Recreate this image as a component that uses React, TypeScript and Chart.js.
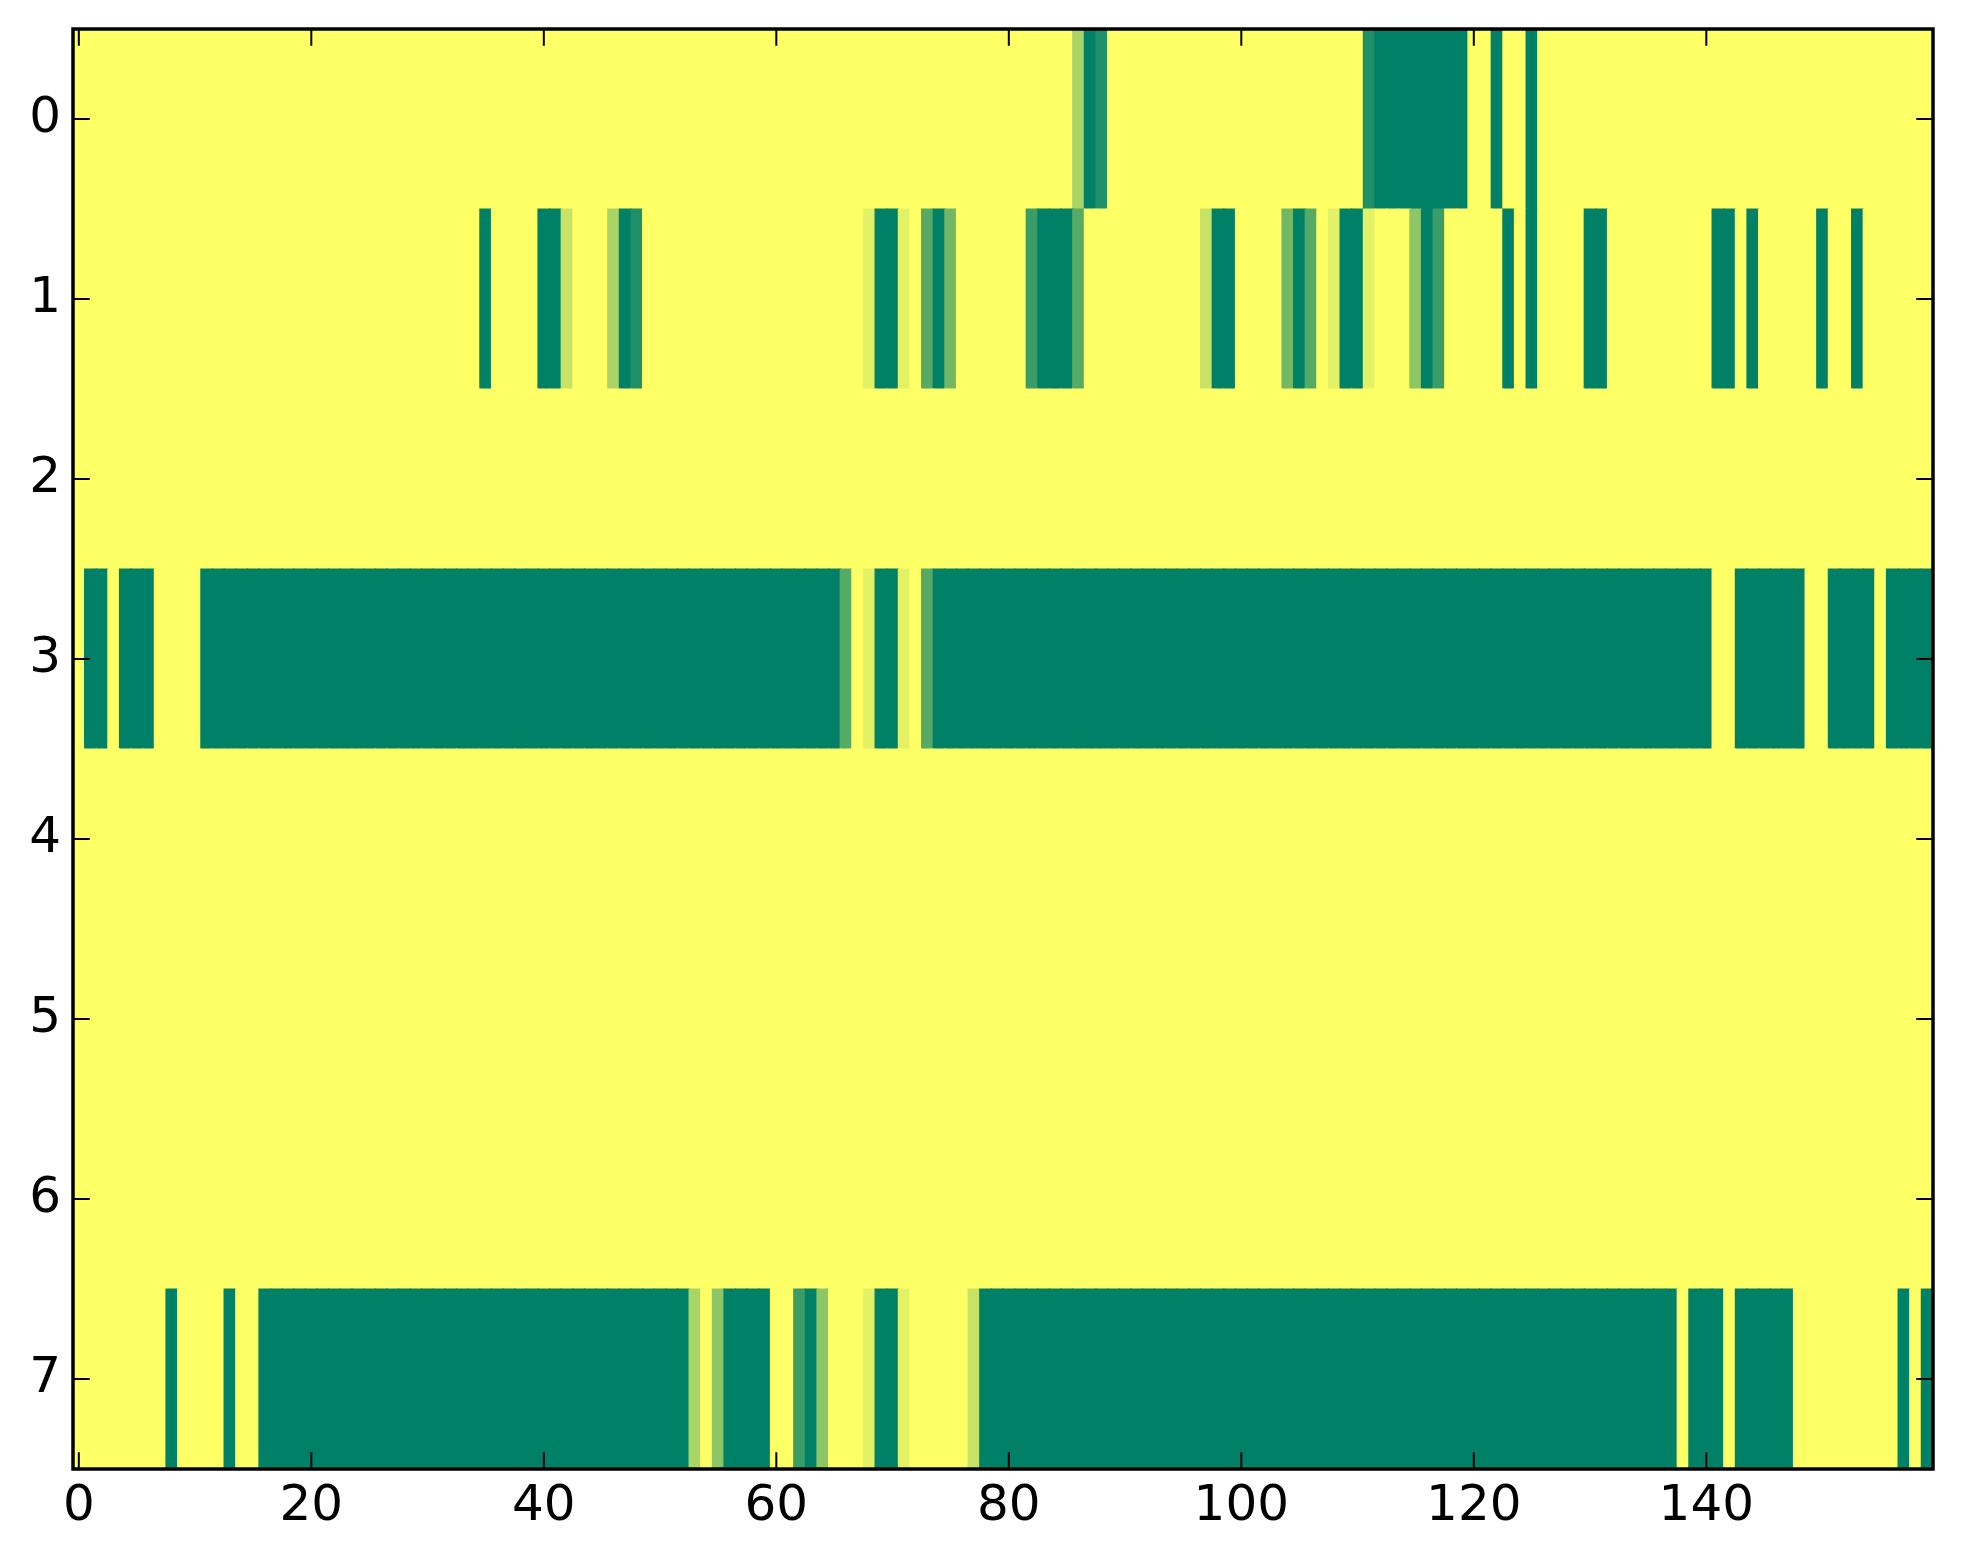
import React, { useEffect, useRef } from "react";
import { Chart, registerables } from "chart.js";

Chart.register(...registerables);

// Row indices (y axis) and tick labels
const ROW_INDEX = [0, 1, 2, 3, 4, 5, 6, 7];
const X_TICKS = [0, 20, 40, 60, 80, 100, 120, 140];
const Y_TICKS = [0, 1, 2, 3, 4, 5, 6, 7];

// Cell values per row (160 columns each), 0 = dark green, 1 = yellow
const row0 = [
  1, 1, 1, 1, 1, 1, 1, 1, 1, 1, 1, 1, 1, 1, 1, 1, 1, 1, 1, 1,
  1, 1, 1, 1, 1, 1, 1, 1, 1, 1, 1, 1, 1, 1, 1, 1, 1, 1, 1, 1,
  1, 1, 1, 1, 1, 1, 1, 1, 1, 1, 1, 1, 1, 1, 1, 1, 1, 1, 1, 1,
  1, 1, 1, 1, 1, 1, 1, 1, 1, 1, 1, 1, 1, 1, 1, 1, 1, 1, 1, 1,
  1, 1, 1, 1, 1, 1, 0.667, 0, 0.118, 1, 1, 1, 1, 1, 1, 1, 1, 1, 1, 1,
  1, 1, 1, 1, 1, 1, 1, 1, 1, 1, 1, 0.118, 0, 0, 0, 0, 0, 0, 0, 0,
  1, 1, 0, 1, 1, 0, 1, 1, 1, 1, 1, 1, 1, 1, 1, 1, 1, 1, 1, 1,
  1, 1, 1, 1, 1, 1, 1, 1, 1, 1, 1, 1, 1, 1, 1, 1, 1, 1, 1, 1,
];
const row1 = [
  1, 1, 1, 1, 1, 1, 1, 1, 1, 1, 1, 1, 1, 1, 1, 1, 1, 1, 1, 1,
  1, 1, 1, 1, 1, 1, 1, 1, 1, 1, 1, 1, 1, 1, 1, 0, 1, 1, 1, 1,
  0, 0, 0.78, 1, 1, 1, 0.667, 0, 0.118, 1, 1, 1, 1, 1, 1, 1, 1, 1, 1, 1,
  1, 1, 1, 1, 1, 1, 1, 1, 0.89, 0, 0, 0.89, 1, 0.333, 0, 0.44, 1, 1, 1, 1,
  1, 1, 0.227, 0, 0, 0, 0.333, 1, 1, 1, 1, 1, 1, 1, 1, 1, 1, 0.78, 0, 0,
  1, 1, 1, 1, 0.44, 0, 0.333, 1, 0.89, 0, 0, 0.89, 1, 1, 1, 0.55, 0, 0.227, 1, 1,
  1, 1, 1, 0, 1, 0, 1, 1, 1, 1, 0, 0, 1, 1, 1, 1, 1, 1, 1, 1,
  1, 0, 0, 1, 0, 1, 1, 1, 1, 1, 0, 1, 1, 0, 1, 1, 1, 1, 1, 1,
];
const row2 = [
  1, 1, 1, 1, 1, 1, 1, 1, 1, 1, 1, 1, 1, 1, 1, 1, 1, 1, 1, 1,
  1, 1, 1, 1, 1, 1, 1, 1, 1, 1, 1, 1, 1, 1, 1, 1, 1, 1, 1, 1,
  1, 1, 1, 1, 1, 1, 1, 1, 1, 1, 1, 1, 1, 1, 1, 1, 1, 1, 1, 1,
  1, 1, 1, 1, 1, 1, 1, 1, 1, 1, 1, 1, 1, 1, 1, 1, 1, 1, 1, 1,
  1, 1, 1, 1, 1, 1, 1, 1, 1, 1, 1, 1, 1, 1, 1, 1, 1, 1, 1, 1,
  1, 1, 1, 1, 1, 1, 1, 1, 1, 1, 1, 1, 1, 1, 1, 1, 1, 1, 1, 1,
  1, 1, 1, 1, 1, 1, 1, 1, 1, 1, 1, 1, 1, 1, 1, 1, 1, 1, 1, 1,
  1, 1, 1, 1, 1, 1, 1, 1, 1, 1, 1, 1, 1, 1, 1, 1, 1, 1, 1, 1,
];
const row3 = [
  1, 0, 0, 1, 0, 0, 0, 1, 1, 1, 1, 0, 0, 0, 0, 0, 0, 0, 0, 0,
  0, 0, 0, 0, 0, 0, 0, 0, 0, 0, 0, 0, 0, 0, 0, 0, 0, 0, 0, 0,
  0, 0, 0, 0, 0, 0, 0, 0, 0, 0, 0, 0, 0, 0, 0, 0, 0, 0, 0, 0,
  0, 0, 0, 0, 0, 0, 0.333, 1, 0.89, 0, 0, 0.89, 1, 0.333, 0, 0, 0, 0, 0, 0,
  0, 0, 0, 0, 0, 0, 0, 0, 0, 0, 0, 0, 0, 0, 0, 0, 0, 0, 0, 0,
  0, 0, 0, 0, 0, 0, 0, 0, 0, 0, 0, 0, 0, 0, 0, 0, 0, 0, 0, 0,
  0, 0, 0, 0, 0, 0, 0, 0, 0, 0, 0, 0, 0, 0, 0, 0, 0, 0, 0, 0,
  0, 1, 1, 0, 0, 0, 0, 0, 0, 1, 1, 0, 0, 0, 0, 1, 0, 0, 0, 0,
];
const row4 = [
  1, 1, 1, 1, 1, 1, 1, 1, 1, 1, 1, 1, 1, 1, 1, 1, 1, 1, 1, 1,
  1, 1, 1, 1, 1, 1, 1, 1, 1, 1, 1, 1, 1, 1, 1, 1, 1, 1, 1, 1,
  1, 1, 1, 1, 1, 1, 1, 1, 1, 1, 1, 1, 1, 1, 1, 1, 1, 1, 1, 1,
  1, 1, 1, 1, 1, 1, 1, 1, 1, 1, 1, 1, 1, 1, 1, 1, 1, 1, 1, 1,
  1, 1, 1, 1, 1, 1, 1, 1, 1, 1, 1, 1, 1, 1, 1, 1, 1, 1, 1, 1,
  1, 1, 1, 1, 1, 1, 1, 1, 1, 1, 1, 1, 1, 1, 1, 1, 1, 1, 1, 1,
  1, 1, 1, 1, 1, 1, 1, 1, 1, 1, 1, 1, 1, 1, 1, 1, 1, 1, 1, 1,
  1, 1, 1, 1, 1, 1, 1, 1, 1, 1, 1, 1, 1, 1, 1, 1, 1, 1, 1, 1,
];
const row5 = [
  1, 1, 1, 1, 1, 1, 1, 1, 1, 1, 1, 1, 1, 1, 1, 1, 1, 1, 1, 1,
  1, 1, 1, 1, 1, 1, 1, 1, 1, 1, 1, 1, 1, 1, 1, 1, 1, 1, 1, 1,
  1, 1, 1, 1, 1, 1, 1, 1, 1, 1, 1, 1, 1, 1, 1, 1, 1, 1, 1, 1,
  1, 1, 1, 1, 1, 1, 1, 1, 1, 1, 1, 1, 1, 1, 1, 1, 1, 1, 1, 1,
  1, 1, 1, 1, 1, 1, 1, 1, 1, 1, 1, 1, 1, 1, 1, 1, 1, 1, 1, 1,
  1, 1, 1, 1, 1, 1, 1, 1, 1, 1, 1, 1, 1, 1, 1, 1, 1, 1, 1, 1,
  1, 1, 1, 1, 1, 1, 1, 1, 1, 1, 1, 1, 1, 1, 1, 1, 1, 1, 1, 1,
  1, 1, 1, 1, 1, 1, 1, 1, 1, 1, 1, 1, 1, 1, 1, 1, 1, 1, 1, 1,
];
const row6 = [
  1, 1, 1, 1, 1, 1, 1, 1, 1, 1, 1, 1, 1, 1, 1, 1, 1, 1, 1, 1,
  1, 1, 1, 1, 1, 1, 1, 1, 1, 1, 1, 1, 1, 1, 1, 1, 1, 1, 1, 1,
  1, 1, 1, 1, 1, 1, 1, 1, 1, 1, 1, 1, 1, 1, 1, 1, 1, 1, 1, 1,
  1, 1, 1, 1, 1, 1, 1, 1, 1, 1, 1, 1, 1, 1, 1, 1, 1, 1, 1, 1,
  1, 1, 1, 1, 1, 1, 1, 1, 1, 1, 1, 1, 1, 1, 1, 1, 1, 1, 1, 1,
  1, 1, 1, 1, 1, 1, 1, 1, 1, 1, 1, 1, 1, 1, 1, 1, 1, 1, 1, 1,
  1, 1, 1, 1, 1, 1, 1, 1, 1, 1, 1, 1, 1, 1, 1, 1, 1, 1, 1, 1,
  1, 1, 1, 1, 1, 1, 1, 1, 1, 1, 1, 1, 1, 1, 1, 1, 1, 1, 1, 1,
];
const row7 = [
  1, 1, 1, 1, 1, 1, 1, 1, 0, 1, 1, 1, 1, 0, 1, 1, 0, 0, 0, 0,
  0, 0, 0, 0, 0, 0, 0, 0, 0, 0, 0, 0, 0, 0, 0, 0, 0, 0, 0, 0,
  0, 0, 0, 0, 0, 0, 0, 0, 0, 0, 0, 0, 0, 0.667, 1, 0.55, 0, 0, 0, 0,
  1, 1, 0.227, 0, 0.55, 1, 1, 1, 0.89, 0, 0, 0.89, 1, 1, 1, 1, 1, 0.78, 0, 0,
  0, 0, 0, 0, 0, 0, 0, 0, 0, 0, 0, 0, 0, 0, 0, 0, 0, 0, 0, 0,
  0, 0, 0, 0, 0, 0, 0, 0, 0, 0, 0, 0, 0, 0, 0, 0, 0, 0, 0, 0,
  0, 0, 0, 0, 0, 0, 0, 0, 0, 0, 0, 0, 0, 0, 0, 0, 0, 0, 1, 0,
  0, 0, 1, 0, 0, 0, 0, 0, 1, 1, 1, 1, 1, 1, 1, 1, 1, 0, 1, 0,
];

const ROWS = [row0, row1, row2, row3, row4, row5, row6, row7];

// matplotlib "summer" colormap
function summer(v: number): string {
  const r = Math.round(255 * v);
  const g = Math.round(255 * (0.5 + 0.5 * v));
  return `rgb(${r}, ${g}, 102)`;
}

const FONT = { family: "'DejaVu Sans', sans-serif", size: 50 };

const framePlugin = {
  id: "frame",
  afterDraw(chart: any) {
    const { ctx, chartArea, scales } = chart;
    const { left, right, top, bottom } = chartArea;
    const xs = scales.x;
    const ys = scales.y;
    const L = 16.7;
    ctx.save();
    ctx.strokeStyle = "#000";
    ctx.lineWidth = 2;
    ctx.beginPath();
    xs.ticks.forEach((t: any) => {
      const px = xs.getPixelForValue(t.value);
      ctx.moveTo(px, bottom);
      ctx.lineTo(px, bottom - L);
      ctx.moveTo(px, top);
      ctx.lineTo(px, top + L);
    });
    ys.ticks.forEach((t: any) => {
      const py = ys.getPixelForValue(t.value);
      ctx.moveTo(left, py);
      ctx.lineTo(left + L, py);
      ctx.moveTo(right, py);
      ctx.lineTo(right - L, py);
    });
    ctx.stroke();
    ctx.lineWidth = 3.5;
    ctx.strokeRect(left, top, right - left, bottom - top);
    ctx.restore();
  },
};

export default function App() {
  const canvasRef = useRef<HTMLCanvasElement | null>(null);

  useEffect(() => {
    const canvas = canvasRef.current;
    if (!canvas) return;

    const points: any[] = [];
    const colors: string[] = [];
    ROWS.forEach((row, r) => {
      row.forEach((v, c) => {
        points.push({ x: [c - 0.5, c + 0.5], y: ROW_INDEX[r] });
        colors.push(summer(v));
      });
    });

    const chart = new Chart(canvas, {
      type: "bar",
      data: {
        datasets: [
          {
            data: points,
            backgroundColor: colors,
            borderWidth: 0,
            inflateAmount: 0.6,
            categoryPercentage: 1,
            barPercentage: 1,
          } as any,
        ],
      },
      options: {
        indexAxis: "y",
        animation: false,
        responsive: false,
        events: [],
        layout: { padding: { top: 29, right: 30, left: 0, bottom: 0 } },
        plugins: {
          legend: { display: false },
          tooltip: { enabled: false },
        },
        scales: {
          x: {
            type: "linear",
            position: "bottom",
            min: -0.5,
            max: 159.5,
            offset: false,
            grid: { display: false, drawTicks: false },
            border: { display: false },
            ticks: {
              font: FONT,
              color: "#000",
              padding: 8,
              autoSkip: false,
              maxRotation: 0,
              callback: (v: any) => String(v),
            },
            afterBuildTicks: (s: any) => {
              s.ticks = X_TICKS.map((v) => ({ value: v }));
            },
            afterFit: (s: any) => {
              s.height = 95;
              s.paddingLeft = 0;
              s.paddingRight = 0;
            },
          },
          y: {
            type: "linear",
            min: -0.5,
            max: 7.5,
            reverse: true,
            offset: false,
            grid: { display: false, drawTicks: false },
            border: { display: false },
            ticks: {
              font: FONT,
              color: "#000",
              padding: 12,
              autoSkip: false,
              callback: (v: any) => String(v),
            },
            afterBuildTicks: (s: any) => {
              s.ticks = Y_TICKS.map((v) => ({ value: v }));
            },
            afterFit: (s: any) => {
              s.width = 73;
              s.paddingTop = 0;
              s.paddingBottom = 0;
            },
          },
        },
      } as any,
      plugins: [framePlugin],
    });

    return () => {
      chart.destroy();
    };
  }, []);

  return (
    <div style={{ position: "fixed", left: 0, top: 0, width: 1963, height: 1564, background: "#fff" }}>
      <canvas ref={canvasRef} width={1963} height={1564} style={{ display: "block" }} />
    </div>
  );
}
